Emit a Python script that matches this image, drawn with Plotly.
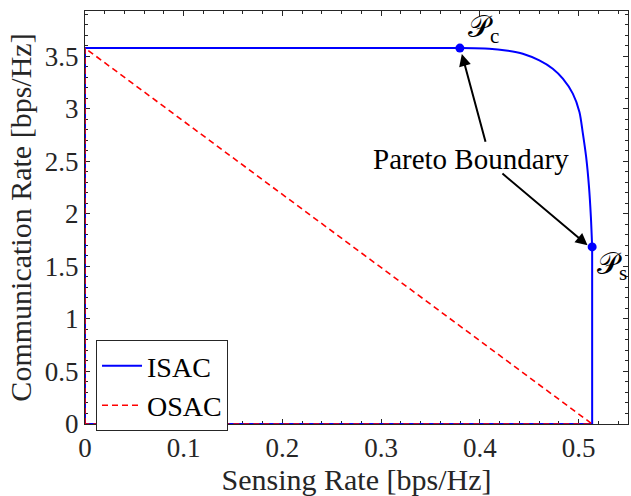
import plotly.graph_objects as go

# ---- data ----
sensing_max = 0.5137
comm_max = 3.577

pareto_x = [0.3797, 0.4094, 0.4264, 0.4434, 0.4602, 0.4738, 0.4840, 0.4941,
            0.5008, 0.5042, 0.5076, 0.5105, 0.5124, 0.5137]
pareto_y = [3.577, 3.571, 3.555, 3.524, 3.460, 3.381, 3.286, 3.144,
            2.969, 2.770, 2.541, 2.256, 1.971, 1.685]

box_x = [0.3797, 0, 0, sensing_max, sensing_max]
box_y = [comm_max, comm_max, 0, 0, 1.685]

osac_x = [0, 0, sensing_max, 0]
osac_y = [0, comm_max, 0, 0]

pc = (0.3797, 3.577)
ps = (0.5137, 1.685)

x_ticks = [0, 0.1, 0.2, 0.3, 0.4, 0.5]
y_ticks = [0, 0.5, 1, 1.5, 2, 2.5, 3, 3.5]

FONT = "Liberation Serif, Times New Roman, serif"
AX = "#262626"

fig = go.Figure()
fig.add_trace(go.Scatter(x=box_x, y=box_y, mode="lines", name="ISAC",
                         line=dict(color="#0000ff", width=2), legendgroup="isac"))
fig.add_trace(go.Scatter(x=pareto_x, y=pareto_y, mode="lines", showlegend=False,
                         line=dict(color="#0000ff", width=2, shape="spline", smoothing=0.8),
                         legendgroup="isac"))
fig.add_trace(go.Scatter(x=osac_x, y=osac_y, mode="lines", name="OSAC",
                         line=dict(color="#ff0000", width=1.6, dash="6px,4px")))
fig.add_trace(go.Scatter(x=[pc[0], ps[0]], y=[pc[1], ps[1]], mode="markers", showlegend=False,
                         marker=dict(color="#0000ff", size=9), cliponaxis=False))

# annotations
fig.add_annotation(x=0.391, y=2.52, text="Pareto Boundary", showarrow=False,
                   font=dict(family=FONT, size=29, color="black"))
fig.add_annotation(x=0.3817, y=3.52, ax=0.4061, ay=2.671, axref="x", ayref="y",
                   xref="x", yref="y", text="", showarrow=True,
                   arrowhead=2, arrowsize=1.2, arrowwidth=2, arrowcolor="black")
fig.add_annotation(x=0.5090, y=1.70, ax=0.4213, ay=2.395, axref="x", ayref="y",
                   xref="x", yref="y", text="", showarrow=True,
                   arrowhead=2, arrowsize=1.2, arrowwidth=2, arrowcolor="black")
fig.add_annotation(x=0.3858, y=3.76, text="𝒫<sub>c</sub>", showarrow=False,
                   xanchor="left", yanchor="middle",
                   font=dict(family=FONT, size=30, color="black"))
fig.add_annotation(x=0.5168, y=1.50, text="𝒫<sub>s</sub>", showarrow=False,
                   xanchor="left", yanchor="middle",
                   font=dict(family=FONT, size=30, color="black"))

axis_common = dict(showgrid=False, zeroline=False, showline=True, linecolor=AX,
                   linewidth=1, mirror="ticks", ticks="inside", ticklen=5,
                   tickcolor=AX, tickwidth=1, layer="below traces", automargin=False,
                   tickfont=dict(family=FONT, size=27, color=AX))

fig.update_xaxes(range=[0, 0.55], tickvals=x_ticks, ticktext=[str(v) for v in x_ticks],
                 minor=dict(ticks="inside", dtick=0.02, tick0=0, ticklen=3, tickcolor=AX),
                 title=dict(text="Sensing Rate [bps/Hz]", font=dict(family=FONT, size=30, color=AX),
                            standoff=6),
                 **axis_common)
fig.update_yaxes(range=[0, 3.93], tickvals=y_ticks, ticktext=[f"{v:g}" for v in y_ticks],
                 minor=dict(ticks="inside", dtick=0.1, tick0=0, ticklen=3, tickcolor=AX),
                 title=dict(text="Communication Rate [bps/Hz]", font=dict(family=FONT, size=30, color=AX),
                            standoff=4),
                 **axis_common)

fig.update_layout(
    width=631, height=496,
    margin=dict(l=85, r=3, t=11, b=72),
    plot_bgcolor="white", paper_bgcolor="white",
    legend=dict(x=0.0203, y=0.2030, xanchor="left", yanchor="top",
                bgcolor="white", bordercolor=AX, borderwidth=1,
                font=dict(family=FONT, size=28, color="black"),
                tracegroupgap=0, itemwidth=40),
    showlegend=True,
)

fig.write_html("out.html", config={"displayModeBar": False},
               post_script="document.body.style.margin='0';document.body.style.overflow='hidden';")
